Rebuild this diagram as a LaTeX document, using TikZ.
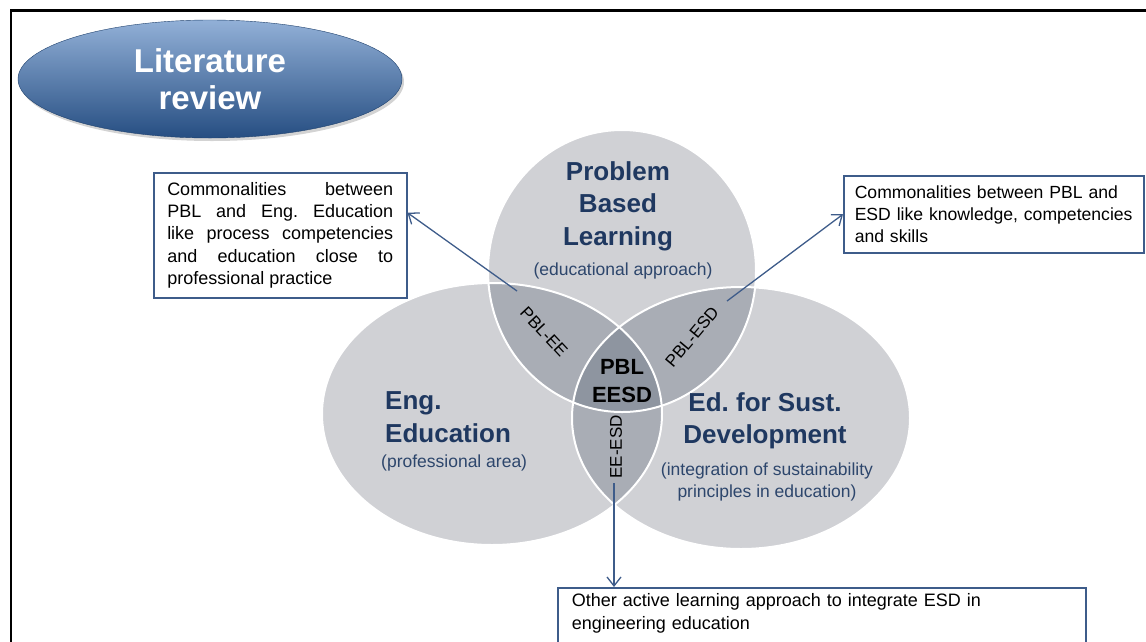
\documentclass[tikz,border=0pt]{standalone}
\usepackage{fontspec}
\setmainfont{Liberation Sans}
\usepackage{tikz}
\usetikzlibrary{shapes.geometric, arrows.meta, positioning, shadows}
\frenchspacing

\definecolor{venngray}{RGB}{208,209,213}
\definecolor{pairgray}{RGB}{169,173,181}
\definecolor{coregray}{RGB}{142,149,160}
\definecolor{titleblue}{RGB}{31,56,96}
\definecolor{subblue}{RGB}{45,70,108}
\definecolor{boxblue}{RGB}{62,92,138}
\definecolor{lrtop}{RGB}{146,176,215}
\definecolor{lrmid}{RGB}{62,104,160}
\definecolor{lrbot}{RGB}{38,78,130}

\newcommand{\pblshape}{(622,271) ellipse [x radius=134, y radius=141]}
\newcommand{\engshape}{(492,414) ellipse [x radius=170, y radius=131]}
\newcommand{\esdshape}{(741,418) ellipse [x radius=169, y radius=131]}

\begin{document}
\begin{tikzpicture}[
    x=1pt, y=-1pt,
    font=\fontsize{18}{22.4}\selectfont,
    >={Straight Barb[length=9pt, width=14pt]},
    litreview/.style={ellipse, minimum width=384pt, minimum height=118pt, top color=lrtop, middle color=lrmid, bottom color=lrbot, draw=lrbot!85!black, line width=0.4pt, drop shadow={opacity=0.35, shadow xshift=2pt, shadow yshift=-3pt}, text=white, font=\fontsize{33}{37}\selectfont\bfseries, align=center},
    lbox/.style={draw=boxblue, line width=1.5pt, fill=white, anchor=north west, inner xsep=14pt},
    arrow/.style={->, line width=1.3pt, boxblue},
    title/.style={text=titleblue, font=\fontsize{26}{32.5}\selectfont\bfseries, align=center, inner sep=0pt},
    sub/.style={text=subblue, font=\fontsize{17.5}{21.5}\selectfont, align=center, inner sep=0pt},
    zone/.style={font=\fontsize{17}{19}\selectfont, inner sep=0pt},
    core/.style={font=\fontsize{22}{28}\selectfont\bfseries, align=center, inner sep=0pt},
    rim/.style={draw=white, line width=2pt}
]
\useasboundingbox (0,0) rectangle (1146,641);
\clip (0,0) rectangle (1146,641);

% Frame
\draw[line width=2.5pt] (11,660) |- (1160,10.5);

% Circles
\fill[venngray] \pblshape;
\fill[venngray] \engshape;
\fill[venngray] \esdshape;

% Overlaps
\begin{scope}
  \clip \pblshape;
  \fill[pairgray] \engshape;
  \fill[pairgray] \esdshape;
\end{scope}
\begin{scope}
  \clip \engshape;
  \fill[pairgray] \esdshape;
\end{scope}
\begin{scope}
  \clip \pblshape;
  \clip \engshape;
  \fill[coregray] \esdshape;
\end{scope}

% Rims
\draw[rim] \pblshape;
\draw[rim] \engshape;
\draw[rim] \esdshape;

% Nodes
\node[litreview] (litrev) at (210,79) {Literature\\review};

\node[title] (pbltitle) at (618,206) {Problem\\Based\\Learning};
\node[sub] (pblsub) at (623,271) {(educational approach)};
\node[title, align=left, anchor=west] (engtitle) at (385,417) {Eng.\\Education};
\node[sub, anchor=west] (engsub) at (381,463) {(professional area)};
\node[title] (esdtitle) at (765,421) {Ed. for Sust.\\Development};
\node[sub] (esdsub) at (767,482) {(integration of sustainability\\principles in education)};

\node[zone, rotate=-47] (pblee) at (544,332) {PBL-EE};
\node[zone, rotate=50] (pblesd) at (692,337) {PBL-ESD};
\node[zone, rotate=90] (eeesd) at (616,447) {EE-ESD};
\node[core] (pbleesd) at (622,381) {PBL\\EESD};

\node[lbox, text width=226pt, align=justify, inner xsep=13.5pt, minimum height=125pt] (pbleebox) at (153,172) {Commonalities between\linebreak PBL and Eng. Education\linebreak like process competencies\linebreak and education close to\linebreak professional practice};
\node[lbox, text width=278pt, align=left, inner xsep=11pt, minimum height=77pt, font=\fontsize{17.6}{22.4}\selectfont] (pblesdbox) at (843,175) {Commonalities between PBL and\\ESD like knowledge, competencies\\and skills};
\node[lbox, text width=500pt, align=left, inner ysep=6pt, text depth=40pt] (eeesdbox) at (557,587) {Other active learning approach to integrate ESD in\\engineering education};

% Zones -> boxes
\coordinate (eeTip) at (517,291);
\coordinate (esdTip) at (727,301);
\coordinate (eeesdTip) at (614,483);
\draw[arrow] (eeTip) -- ([yshift=22.5pt]pbleebox.east);
\draw[arrow] (esdTip) -- (pblesdbox.west);
\draw[arrow] (eeesdTip) -- (eeesdTip |- eeesdbox.north);

\end{tikzpicture}
\end{document}
